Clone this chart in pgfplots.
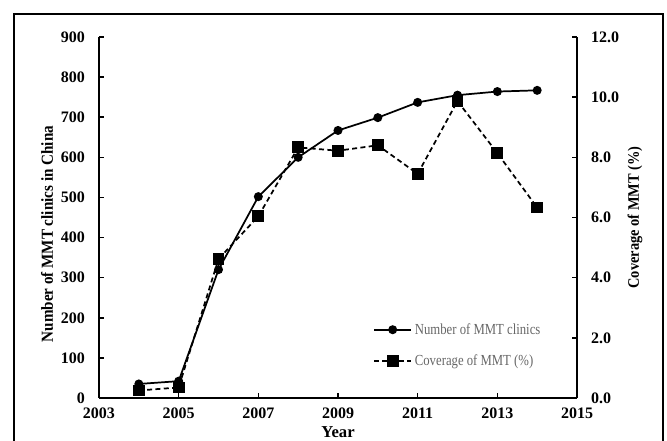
\documentclass[border=0pt]{standalone}
\usepackage{fontspec}
\setmainfont{Liberation Serif}
\newfontfamily\legfont[FakeStretch=0.83]{Liberation Serif}
\newfontfamily\labfont[FakeStretch=0.9]{Liberation Serif}
\usepackage{pgfplots}
\pgfplotsset{compat=1.18}
\pgfplotstableread{
year clinics cov
2004 35 0.25
2005 42 0.35
2006 320 4.62
2007 502 6.04
2008 600 8.33
2009 667 8.22
2010 699 8.40
2011 737 7.45
2012 755 9.87
2013 764 8.14
2014 767 6.33
}\mmt
\pgfplotsset{
  common/.style={
    at={(0pt,0pt)}, anchor=south west,
    scale only axis, width=358.5pt, height=270.75pt,
    xmin=2003, xmax=2015,
    tick align=inside, major tick length=3.5pt,
    axis line style={line width=1.1pt},
    major tick style={line width=1.1pt, black},
    tick label style={font=\fontsize{12}{14}\selectfont\bfseries},
    /pgf/number format/assume math mode=true,
  },
  clin/.style={black, line width=1.3pt, mark=*, mark size=2.7pt},
  covs/.style={black, line width=1.3pt, dash pattern=on 3.75pt off 2.5pt, mark=square*, mark size=3.8pt, mark options={solid}},
}
\begin{document}
\begin{tikzpicture}
\begin{axis}[common,
  ymin=0, ymax=900,
  axis x line*=bottom, axis y line*=left,
  xtick={2003,2005,...,2015}, ytick={0,100,...,900},
  x tick label style={/pgf/number format/1000 sep={}, yshift=-4pt},
  y tick label style={xshift=-7pt},
  ylabel={Number of MMT clinics in China},
  ylabel style={font=\fontsize{12.6}{14}\labfont\bfseries, at={(axis description cs:0,0.5)}, anchor=center, rotate=0, yshift=39pt, xshift=-12.5pt},
  xlabel={Year},
  xlabel style={font=\fontsize{12.5}{14}\selectfont\bfseries, at={(axis description cs:0.5,0)}, anchor=center, yshift=-25.5pt},
]
\addplot[clin] table[x=year, y=clinics] {\mmt};
\end{axis}
\begin{axis}[common,
  ymin=0, ymax=12,
  hide x axis, axis y line*=right,
  ytick={0,2,...,12},
  y tick label style={/pgf/number format/.cd, fixed, fixed zerofill, precision=1, /tikz/.cd, xshift=7pt},
  ylabel={Coverage of MMT (\%)},
  ylabel style={font=\fontsize{12}{14}\labfont\bfseries, at={(axis description cs:1,0.5)}, anchor=center, rotate=0, yshift=-43.5pt},
  legend style={draw=none, fill=none, at={(axis description cs:0.573,0.215)}, anchor=north west,
    font=\fontsize{11.5}{13}\legfont, text=black!60, row sep=10pt, inner sep=0pt},
  legend cell align=left,
  legend image code/.code={\draw[mark repeat=2, mark phase=2, #1] plot coordinates {(0pt,0pt) (14pt,0pt) (28pt,0pt)};},
]
\addlegendimage{clin}
\addlegendentry{Number of MMT clinics}
\addplot[covs] table[x=year, y=cov] {\mmt};
\addlegendentry{Coverage of MMT (\%)}
\end{axis}
\draw[line width=1.1pt] (-63.75pt,-60pt) rectangle (423pt,288pt);
\pgfresetboundingbox
\useasboundingbox (-74.25pt,-32.25pt) rectangle (426pt,298.5pt);
\end{tikzpicture}
\end{document}
